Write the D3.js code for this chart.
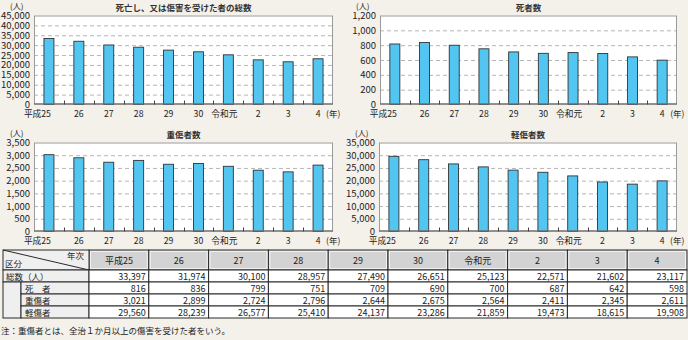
<!DOCTYPE html>
<html>
<head>
<meta charset="utf-8">
<script src="https://cdn.jsdelivr.net/npm/d3@7"></script>
<style>
  html, body { margin: 0; padding: 0; background: #f4f0ea; }
  svg { display: block; font-family: "Noto Sans CJK JP", "Noto Sans", sans-serif; }
</style>
</head>
<body>
<svg id="chart" width="688" height="340"></svg>
<script>
// Years (Heisei 25 – Reiwa 4)
const years = ["平成25", "26", "27", "28", "29", "30", "令和元", "2", "3", "4"];

// Casualty counts per year
const totalCount   = [33397, 31974, 30100, 28957, 27490, 26651, 25123, 22571, 21602, 23117];
const deathCount   = [816, 836, 799, 751, 709, 690, 700, 687, 642, 598];
const seriousCount = [3021, 2899, 2724, 2796, 2644, 2675, 2564, 2411, 2345, 2611];
const minorCount   = [29560, 28239, 26577, 25410, 24137, 23286, 21859, 19473, 18615, 19908];

// Panel titles and y-axis ranges
const panelTitles = ["死亡し、又は傷害を受けた者の総数", "死者数", "重傷者数", "軽傷者数"];
const panelMax    = [45000, 1200, 3500, 35000];
const panelStep   = [5000, 200, 500, 5000];

// Table rows
const rowLabels = ["総数（人）", "死　者", "重傷者", "軽傷者"];
const noteText = "注：重傷者とは、全治１か月以上の傷害を受けた者をいう。";

const svg = d3.select("#chart");
const fmt = d3.format(",");
const BAR = "#52c5f1";
const INK = "#222";

const layout = [
  { x0: 34,  x1: 333, y0: 15.5,  y1: 104.5 },
  { x0: 380, x1: 677, y0: 15.5,  y1: 104.5 },
  { x0: 34,  x1: 333, y0: 142.5, y1: 231.5 },
  { x0: 379, x1: 677, y0: 142.5, y1: 231.5 }
];
const series = [totalCount, deathCount, seriousCount, minorCount];

series.forEach((vals, i) => {
  const L = layout[i];
  const g = svg.append("g");
  const x = d3.scaleBand().domain(years).range([L.x0, L.x1]).paddingInner(0).paddingOuter(0);
  const y = d3.scaleLinear().domain([0, panelMax[i]]).range([L.y1, L.y0]);
  const ticks = d3.range(0, panelMax[i] + 1, panelStep[i]);

  // plot background
  g.append("rect")
    .attr("x", L.x0).attr("y", L.y0)
    .attr("width", L.x1 - L.x0).attr("height", L.y1 - L.y0)
    .attr("fill", "#fff");

  // dashed gridlines
  g.selectAll(".grid").data(ticks.filter(t => t > 0 && t < panelMax[i]))
    .enter().append("line")
    .attr("x1", L.x0).attr("x2", L.x1)
    .attr("y1", d => y(d) + 0.5).attr("y2", d => y(d) + 0.5)
    .attr("stroke", "#b5b5b5").attr("stroke-width", 1)
    .attr("stroke-dasharray", "4,3");

  // bars
  const bw = 10;
  g.selectAll(".bar").data(vals).enter().append("rect")
    .attr("x", (d, j) => x(years[j]) + x.bandwidth() / 2 - bw / 2)
    .attr("y", d => y(d))
    .attr("width", bw)
    .attr("height", d => L.y1 - y(d))
    .attr("fill", BAR)
    .attr("stroke", "#333")
    .attr("stroke-width", 0.9);

  // frame
  g.append("rect")
    .attr("x", L.x0 + 0.5).attr("y", L.y0 + 0.5)
    .attr("width", L.x1 - L.x0 - 1).attr("height", L.y1 - L.y0 - 1)
    .attr("fill", "none").attr("stroke", "#9a9a9a").attr("stroke-width", 1);
  g.append("line")
    .attr("x1", L.x0).attr("x2", L.x1)
    .attr("y1", L.y1 - 0.5).attr("y2", L.y1 - 0.5)
    .attr("stroke", "#555").attr("stroke-width", 1);

  // category separators at the baseline
  g.selectAll(".sep").data(years.slice(1)).enter().append("line")
    .attr("x1", d => Math.round(x(d)) + 0.5).attr("x2", d => Math.round(x(d)) + 0.5)
    .attr("y1", L.y1).attr("y2", L.y1 - 4)
    .attr("stroke", "#444").attr("stroke-width", 1);

  // y axis labels
  const yAxis = d3.axisLeft(y).tickValues(ticks).tickSize(0).tickPadding(4).tickFormat(fmt);
  const ya = g.append("g").attr("transform", `translate(${L.x0},0)`).call(yAxis);
  ya.select(".domain").remove();
  ya.selectAll("text")
    .attr("font-size", 9.5).attr("fill", INK)
    .attr("font-family", "'Noto Sans CJK JP', sans-serif");

  // x axis labels
  const xa = g.append("g");
  xa.selectAll("text").data(years).enter().append("text")
    .attr("x", (d, j) => {
      const c = x(d) + x.bandwidth() / 2;
      if (j === 0) return c + 2;
      if (d === "令和元") return c - 4;
      return c;
    })
    .attr("y", L.y1 + 12.5)
    .attr("text-anchor", (d, j) => j === 0 ? "end" : "middle")
    .attr("font-size", 8.7).attr("fill", INK)
    .text(d => d);
  xa.append("text")
    .attr("x", x(years[years.length - 1]) + x.bandwidth() / 2 + 8)
    .attr("y", L.y1 + 12.5)
    .attr("font-size", 8.5).attr("fill", INK)
    .text("(年)");

  // unit and title
  g.append("text")
    .attr("x", L.x0 - 24).attr("y", L.y0 - 6.5)
    .attr("font-size", 8).attr("fill", INK)
    .text("(人)");
  g.append("text")
    .attr("x", (L.x0 + L.x1) / 2).attr("y", L.y0 - 5)
    .attr("text-anchor", "middle")
    .attr("font-size", 8.5).attr("font-weight", "bold").attr("fill", "#333")
    .text(panelTitles[i]);
});

// ---- data table ----
const T = { left: 3, labelRight: 89, right: 687, top: 250, headBottom: 270, rowH: 12, indent: 21 };
const colX = d3.scaleBand().domain(years).range([T.labelRight, T.right]);
const rowY = d3.scaleBand().domain(rowLabels).range([T.headBottom, T.headBottom + T.rowH * rowLabels.length]);
const tableData = [totalCount, deathCount, seriousCount, minorCount];
const tg = svg.append("g");
const LINE = "#2a2a2a";

// header cells
tg.selectAll(".hcell").data(years).enter().append("rect")
  .attr("x", d => colX(d)).attr("y", T.top)
  .attr("width", colX.bandwidth()).attr("height", T.headBottom - T.top)
  .attr("fill", "#d3d3d3").attr("stroke", LINE).attr("stroke-width", 1);
tg.selectAll(".hin").data(years).enter().append("rect")
  .attr("x", d => colX(d) + 1.5).attr("y", T.top + 1.5)
  .attr("width", colX.bandwidth() - 3).attr("height", T.headBottom - T.top - 3)
  .attr("fill", "none").attr("stroke", "#f2f2f2").attr("stroke-width", 1);
tg.selectAll(".htext").data(years).enter().append("text")
  .attr("x", d => colX(d) + colX.bandwidth() / 2)
  .attr("y", (T.top + T.headBottom) / 2 + 3.5)
  .attr("text-anchor", "middle").attr("font-size", 9).attr("fill", INK)
  .text(d => d);

// corner header cell
tg.append("rect")
  .attr("x", T.left).attr("y", T.top)
  .attr("width", T.labelRight - T.left).attr("height", T.headBottom - T.top)
  .attr("fill", "#efefef").attr("stroke", LINE).attr("stroke-width", 1);
tg.append("line")
  .attr("x1", T.left).attr("y1", T.top)
  .attr("x2", T.labelRight).attr("y2", T.headBottom)
  .attr("stroke", LINE).attr("stroke-width", 1);
tg.append("text").attr("x", T.labelRight - 5).attr("y", T.top + 8.5)
  .attr("text-anchor", "end").attr("font-size", 8.5).attr("fill", INK).text("年次");
tg.append("text").attr("x", T.left + 2).attr("y", T.headBottom - 3)
  .attr("font-size", 8.5).attr("fill", INK).text("区分");

// row label cells
tg.append("rect")
  .attr("x", T.left).attr("y", rowY(rowLabels[0]))
  .attr("width", T.labelRight - T.left).attr("height", T.rowH)
  .attr("fill", "#efefef").attr("stroke", LINE).attr("stroke-width", 1);
tg.append("rect")
  .attr("x", T.left).attr("y", rowY(rowLabels[1]))
  .attr("width", T.indent - T.left).attr("height", T.rowH * 3)
  .attr("fill", "#efefef").attr("stroke", LINE).attr("stroke-width", 1);
tg.selectAll(".sublab").data(rowLabels.slice(1)).enter().append("rect")
  .attr("x", T.indent).attr("y", d => rowY(d))
  .attr("width", T.labelRight - T.indent).attr("height", T.rowH)
  .attr("fill", "#efefef").attr("stroke", LINE).attr("stroke-width", 1);
tg.selectAll(".rlabel").data(rowLabels).enter().append("text")
  .attr("x", (d, i) => i === 0 ? T.left + 3 : T.indent + 4)
  .attr("y", d => rowY(d) + T.rowH / 2 + 3.5)
  .attr("font-size", 8.5).attr("fill", INK)
  .text(d => d);

// value cells
tableData.forEach((vals, r) => {
  const ry = rowY(rowLabels[r]);
  tg.selectAll(".c" + r).data(vals).enter().append("rect")
    .attr("x", (d, j) => colX(years[j])).attr("y", ry)
    .attr("width", colX.bandwidth()).attr("height", T.rowH)
    .attr("fill", "#fff").attr("stroke", LINE).attr("stroke-width", 1);
  tg.selectAll(".t" + r).data(vals).enter().append("text")
    .attr("x", (d, j) => colX(years[j]) + colX.bandwidth() - 3)
    .attr("y", ry + T.rowH / 2 + 3.5)
    .attr("text-anchor", "end").attr("font-size", 9).attr("fill", INK)
    .text(d => fmt(d));
});

// note
svg.append("text")
  .attr("x", 1).attr("y", 334)
  .attr("font-size", 8.5).attr("fill", INK)
  .text(noteText);
</script>
</body>
</html>
